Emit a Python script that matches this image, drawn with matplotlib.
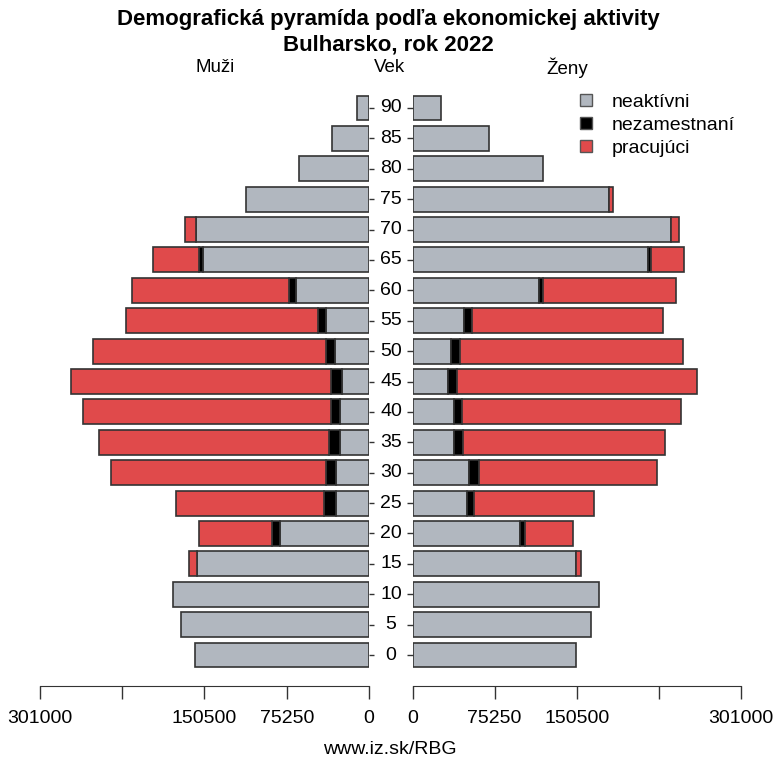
import matplotlib
matplotlib.use('Agg')
import matplotlib.pyplot as plt
import matplotlib.transforms as mtransforms
from matplotlib.patches import Patch
import numpy as np

plt.rcParams['font.family'] = ['Liberation Sans', 'DejaVu Sans']

ages = [0, 5, 10, 15, 20, 25, 30, 35, 40, 45, 50, 55, 60, 65, 70, 75, 80, 85, 90]

men_inactive = [158900, 172000, 179300, 157400, 81100, 30500, 29900, 26800, 26800, 25000,
                31100, 39000, 67100, 151900, 158600, 112200, 64000, 34100, 11000]
men_unemployed = [0, 0, 0, 0, 7300, 10700, 9800, 9800, 8200, 10100,
                  8500, 7300, 6100, 3700, 0, 0, 0, 0, 0]
men_working = [0, 0, 0, 7300, 67400, 135100, 196600, 210400, 226700, 237900,
               212900, 175700, 143300, 42000, 10000, 0, 0, 0, 0]

women_inactive = [150200, 163300, 170600, 149900, 98600, 50100, 51600, 38200, 38200, 32700,
                  35400, 47300, 115700, 215800, 236600, 180400, 120000, 70500, 25900]
women_unemployed = [0, 0, 0, 0, 4900, 6700, 9200, 8200, 7300, 8500,
                    8200, 7600, 3700, 2700, 0, 0, 0, 0, 0]
women_working = [0, 0, 0, 4900, 43900, 109200, 163600, 185000, 200200, 219200,
                 204000, 175000, 122400, 30300, 7900, 3300, 0, 0, 0]

xmax = 301000
xticks = [0, 75250, 150500, 225750, 301000]
xticklabels = ['0', '75250', '150500', '', '301000']

series_labels = ['neaktívni', 'nezamestnaní', 'pracujúci']
colors = ['#b1b7bf', '#000000', '#e04a4b']
edge = '#333333'

fig = plt.figure(figsize=(7.75, 7.63), dpi=100)
W, H = 775, 763
bottom = 1 - 686 / H
height = (686 - 77) / H
ax_m = fig.add_axes([40 / W, bottom, 329 / W, height])
ax_w = fig.add_axes([412.5 / W, bottom, 328.5 / W, height])

pos = np.arange(len(ages))
bar_h = 0.82


def draw_side(ax, inactive, unemployed, working):
    inactive = np.array(inactive)
    unemployed = np.array(unemployed)
    working = np.array(working)
    left = np.zeros(len(inactive))
    for vals, col in zip([inactive, unemployed, working], colors):
        mask = vals > 0
        ax.barh(pos[mask], vals[mask], left=left[mask], height=bar_h, color=col,
                edgecolor=edge, linewidth=1.2)
        left = left + vals


draw_side(ax_m, men_inactive, men_unemployed, men_working)
draw_side(ax_w, women_inactive, women_unemployed, women_working)

for ax in (ax_m, ax_w):
    ax.set_ylim(-1.02, 19.02)
    ax.set_xticks(xticks)
    ax.set_xticklabels(xticklabels, fontsize=14)
    ax.tick_params(axis='x', length=9, width=1, color='#333333', pad=8)
    for s in ['top', 'left', 'right']:
        ax.spines[s].set_visible(False)
    ax.spines['bottom'].set_bounds(0, xmax)
    ax.spines['bottom'].set_color('#333333')
    ax.set_yticks(pos)
    ax.set_yticklabels([])

ax_m.set_xlim(xmax, 0)
ax_w.set_xlim(0, xmax)
ax_m.yaxis.tick_right()
ax_m.tick_params(axis='y', length=3.5, width=1, color='#333333')
ax_w.yaxis.tick_left()
ax_w.tick_params(axis='y', length=4.5, width=1, color='#333333')

trans = mtransforms.blended_transform_factory(fig.transFigure, ax_m.transData)
for p, a in zip(pos, ages):
    fig.text(391 / W, p, str(a), transform=trans, ha='center', va='center', fontsize=14)

fig.text(388 / W, 1 - 20 / H, 'Demografická pyramída podľa ekonomickej aktivity',
         ha='center', va='center', fontsize=16, fontweight='bold')
fig.text(388 / W, 1 - 45 / H, 'Bulharsko, rok 2022',
         ha='center', va='center', fontsize=16, fontweight='bold')
fig.text(215 / W, 1 - 68 / H, 'Muži', ha='center', va='center', fontsize=13.5)
fig.text(390 / W, 1 - 68 / H, 'Vek', ha='center', va='center', fontsize=13.5)
fig.text(567 / W, 1 - 68 / H, 'Ženy', ha='center', va='center', fontsize=13.5)
fig.text(390 / W, 1 - 750 / H, 'www.iz.sk/RBG', ha='center', va='center', fontsize=14)

handles = [Patch(facecolor=c, edgecolor='#555555', linewidth=1.0) for c in colors]
fig.legend(handles, series_labels, loc='upper left', bbox_to_anchor=(580 / W, 1 - 94 / H),
           frameon=False, fontsize=14, handlelength=0.62, handleheight=0.55,
           handletextpad=1.0, labelspacing=0.3, borderaxespad=0, borderpad=0)

fig.savefig('out.png', dpi=100)
